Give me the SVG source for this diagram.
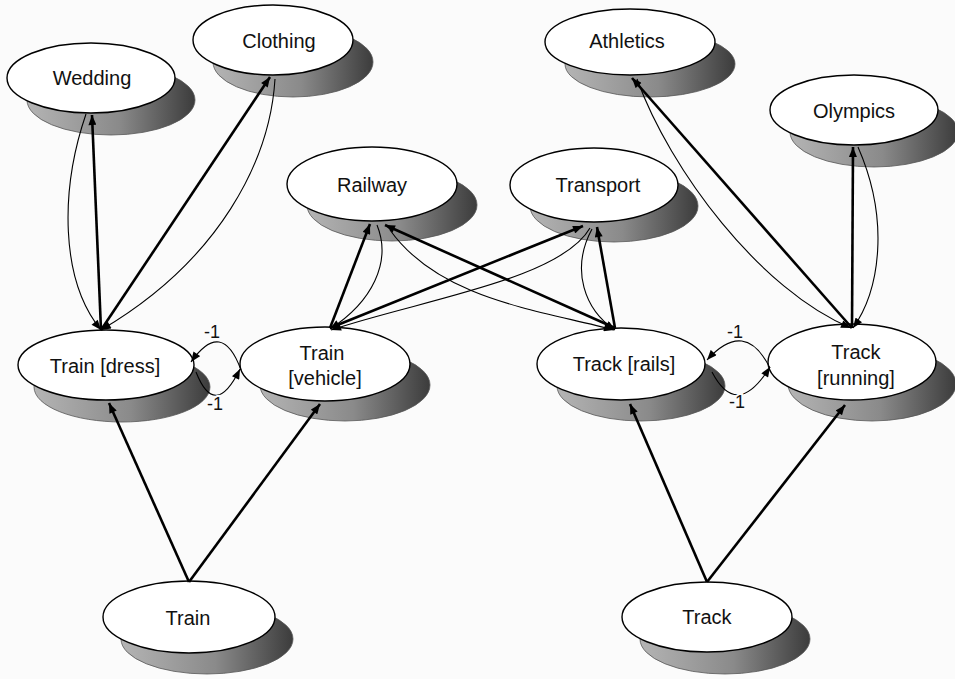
<svg xmlns="http://www.w3.org/2000/svg" width="955" height="679" viewBox="0 0 955 679">
  <defs>
    <linearGradient id="shade" x1="0" y1="0" x2="1" y2="0">
      <stop offset="0" stop-color="#b4b4b4"/>
      <stop offset="0.55" stop-color="#8a8a8a"/>
      <stop offset="1" stop-color="#3c3c3c"/>
    </linearGradient>
    <marker id="arrow" viewBox="0 0 10 8" refX="10" refY="4" markerWidth="11" markerHeight="8" markerUnits="userSpaceOnUse" orient="auto">
      <path d="M0,0 L10,4 L0,8 z" fill="#000"/>
    </marker>
  </defs>
  <style>
    .shadow { fill: url(#shade); stroke: #555; stroke-width: 0.8; }
    .node { fill: #fff; stroke: #000; stroke-width: 1.4; }
    .label { font-family: "Liberation Sans", Arial, sans-serif; font-size: 20px; fill: #111; text-anchor: middle; }
    .strong { fill: none; stroke: #000; stroke-width: 2.6; marker-end: url(#arrow); }
    .weak { fill: none; stroke: #000; stroke-width: 1.1; marker-end: url(#arrow); }
    .inhibit { fill: none; stroke: #000; stroke-width: 1.1; marker-end: url(#arrow); }
    .weight { font-family: "Liberation Sans", Arial, sans-serif; font-size: 18px; fill: #111; text-anchor: middle; stroke: #fbfbfb; stroke-width: 4; paint-order: stroke; }
  </style>

  <rect width="955" height="679" fill="#fbfbfb"/>

  <!-- concept nodes -->
  <g id="wedding">
    <ellipse class="shadow" cx="111" cy="100" rx="84" ry="35"/>
    <ellipse class="node" cx="91" cy="78" rx="84" ry="35"/>
    <text class="label" x="92" y="85">Wedding</text>
  </g>
  <g id="clothing">
    <ellipse class="shadow" cx="293" cy="62" rx="80" ry="35"/>
    <ellipse class="node" cx="273" cy="40" rx="80" ry="35"/>
    <text class="label" x="279" y="48">Clothing</text>
  </g>
  <g id="athletics">
    <ellipse class="shadow" cx="650" cy="64" rx="85" ry="33"/>
    <ellipse class="node" cx="630" cy="42" rx="85" ry="33"/>
    <text class="label" x="627" y="48">Athletics</text>
  </g>
  <g id="olympics">
    <ellipse class="shadow" cx="874" cy="132" rx="84" ry="35"/>
    <ellipse class="node" cx="854" cy="110" rx="84" ry="35"/>
    <text class="label" x="854" y="118">Olympics</text>
  </g>
  <g id="railway">
    <ellipse class="shadow" cx="392" cy="205" rx="85" ry="36"/>
    <ellipse class="node" cx="372" cy="184" rx="85" ry="37"/>
    <text class="label" x="372" y="192">Railway</text>
  </g>
  <g id="transport">
    <ellipse class="shadow" cx="614" cy="206" rx="84" ry="36"/>
    <ellipse class="node" cx="594" cy="185" rx="84" ry="37"/>
    <text class="label" x="598" y="192">Transport</text>
  </g>

  <!-- sense nodes -->
  <g id="train-dress">
    <ellipse class="shadow" cx="122" cy="387" rx="88" ry="35"/>
    <ellipse class="node" cx="106" cy="365" rx="88" ry="35"/>
    <text class="label" x="105" y="373">Train [dress]</text>
  </g>
  <g id="train-vehicle">
    <ellipse class="shadow" cx="345" cy="385" rx="85" ry="36"/>
    <ellipse class="node" cx="325" cy="364" rx="85" ry="37"/>
    <text class="label" x="322" y="360">Train</text>
    <text class="label" x="325" y="385">[vehicle]</text>
  </g>
  <g id="track-rails">
    <ellipse class="shadow" cx="641" cy="386" rx="84" ry="35"/>
    <ellipse class="node" cx="621" cy="364" rx="84" ry="36"/>
    <text class="label" x="624" y="371">Track [rails]</text>
  </g>
  <g id="track-running">
    <ellipse class="shadow" cx="872" cy="384" rx="84" ry="37"/>
    <ellipse class="node" cx="852" cy="362" rx="84" ry="38"/>
    <text class="label" x="856" y="359">Track</text>
    <text class="label" x="856" y="385">[running]</text>
  </g>

  <!-- word nodes -->
  <g id="train">
    <ellipse class="shadow" cx="207" cy="639" rx="86" ry="35"/>
    <ellipse class="node" cx="189" cy="617" rx="86" ry="36"/>
    <text class="label" x="188" y="625">Train</text>
  </g>
  <g id="track">
    <ellipse class="shadow" cx="725" cy="639" rx="85" ry="35"/>
    <ellipse class="node" cx="707" cy="617" rx="85" ry="35"/>
    <text class="label" x="707" y="624">Track</text>
  </g>

  <!-- connectors -->
  <g id="connectors">
    <!-- word to senses -->
    <line class="strong" x1="189" y1="582" x2="109" y2="403"/>
    <line class="strong" x1="189" y1="582" x2="320" y2="404"/>
    <line class="strong" x1="707" y1="582" x2="630" y2="404"/>
    <line class="strong" x1="707" y1="582" x2="845" y2="405"/>

    <!-- Train [dress] links -->
    <line class="strong" x1="101" y1="330" x2="92" y2="115"/>
    <path class="weak" d="M86,114 C60,190 60,280 101,330"/>
    <line class="strong" x1="101" y1="330" x2="270" y2="77"/>
    <path class="weak" d="M275,79 C270,160 220,260 101,330"/>

    <!-- Train [vehicle] links -->
    <line class="strong" x1="330" y1="328" x2="370" y2="224"/>
    <path class="weak" d="M377,225 C392,262 372,302 330,329"/>
    <line class="strong" x1="330" y1="328" x2="583" y2="226"/>
    <path class="weak" d="M590,228 C560,280 420,300 331,330"/>

    <!-- Track [rails] links -->
    <line class="strong" x1="615" y1="328" x2="385" y2="225"/>
    <path class="weak" d="M390,230 C440,300 540,310 614,330"/>
    <line class="strong" x1="615" y1="328" x2="597" y2="227"/>
    <path class="weak" d="M592,229 C570,270 585,310 615,330"/>

    <!-- Track [running] links -->
    <line class="strong" x1="852" y1="328" x2="632" y2="78"/>
    <path class="weak" d="M637,79 C670,170 760,290 851,328"/>
    <line class="strong" x1="852" y1="328" x2="853" y2="147"/>
    <path class="weak" d="M858,147 C890,220 880,290 853,328"/>

    <!-- mutual inhibition between senses -->
    <path class="inhibit" d="M241,370 Q222,318 191,362"/>
    <path class="inhibit" d="M196,372 Q215,420 240,369"/>
    <text class="weight" x="212" y="338">-1</text>
    <text class="weight" x="215" y="410">-1</text>

    <path class="inhibit" d="M770,368 Q745,318 707,360"/>
    <path class="inhibit" d="M712,372 Q737,420 770,367"/>
    <text class="weight" x="735" y="338">-1</text>
    <text class="weight" x="737" y="408">-1</text>
  </g>
</svg>
